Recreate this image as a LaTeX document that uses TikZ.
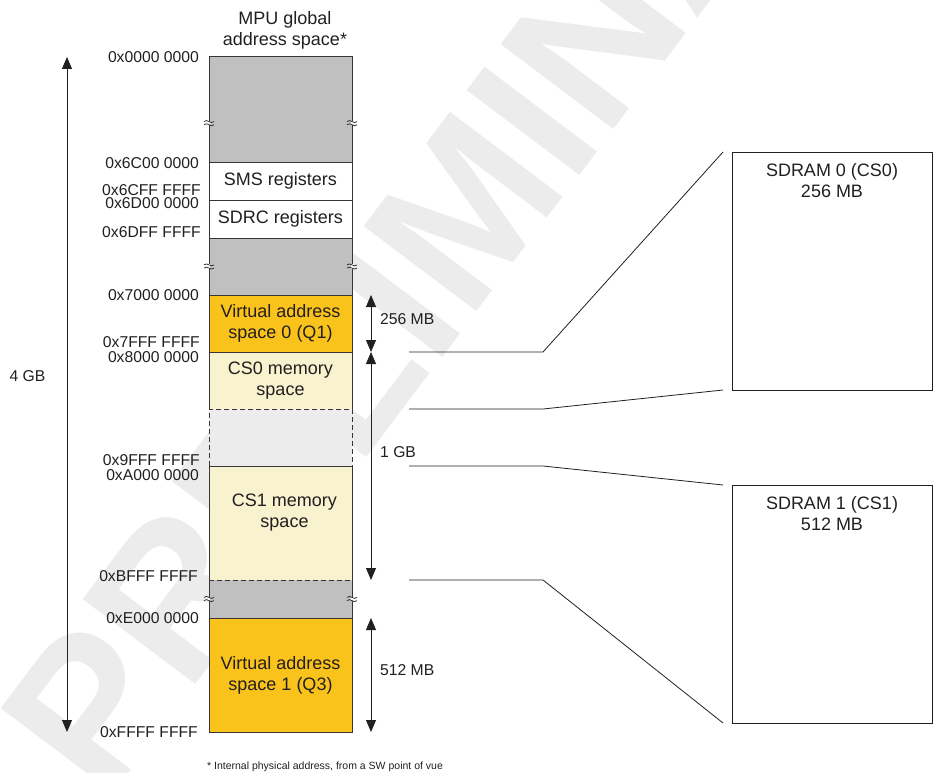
\documentclass[tikz,border=0pt]{standalone}
\usepackage{fontspec}
\setmainfont{Liberation Sans}
\usetikzlibrary{positioning,arrows.meta,calc}
\definecolor{rsvgray}{RGB}{192,192,192}
\definecolor{virtorange}{RGB}{249,195,28}
\definecolor{csyellow}{RGB}{249,242,207}
\definecolor{holegray}{RGB}{236,236,236}
\definecolor{wmgray}{RGB}{236,236,236}
\definecolor{inkgray}{RGB}{35,31,32}
\newcommand\bigtxt{\fontsize{18}{21}\selectfont}
\newcommand\smalltxt{\fontsize{15.7}{18}\selectfont}
\tikzset{
  region/.style={rectangle,draw=none,inner sep=0pt,outer sep=0pt,minimum width=143pt,
    anchor=north west,align=center,font=\bigtxt,text=inkgray},
  resv/.style={region,fill=rsvgray},
  regs/.style={region,fill=white},
  virt/.style={region,fill=virtorange},
  csmem/.style={region,fill=csyellow},
  hole/.style={region,fill=holegray},
  memtxt/.style={inner sep=0pt,align=center,font=\bigtxt,text=inkgray},
  addr/.style={anchor=east,inner sep=0pt,font=\smalltxt,text=inkgray},
  dimlbl/.style={anchor=west,inner sep=0pt,font=\smalltxt,text=inkgray},
  sdram/.style={rectangle,draw=inkgray,line width=0.9pt,inner sep=0pt,outer sep=0pt,
    minimum width=200pt,minimum height=238pt,anchor=north west},
  edge/.style={draw=inkgray!90,line width=1pt},
  brk/.style={draw=inkgray,line width=0.7pt},
  dim/.style={{Triangle[length=12pt,width=10pt]}-{Triangle[length=12pt,width=10pt]},
    line width=0.8pt,draw=inkgray},
  link/.style={draw=inkgray,line width=0.8pt},
  wmark/.style={inner sep=0pt,text=wmgray,font=\fontsize{205}{205}\selectfont\bfseries},
}

\begin{document}
\begin{tikzpicture}[x=1pt,y=-1pt]
  \useasboundingbox (0,0) rectangle (934,773);
  % watermark behind everything
  \begin{scope}
    \clip (0,0) rectangle (934,773);
    \node[wmark,rotate=53,anchor=base west] (wm) at (105,805) {PRELIMINARY};
  \end{scope}

  \node[memtxt] (title) at (285,30) {MPU global\\address space*};

  % address map column
  \node[resv,minimum height=105pt] (g1) at (209,57) {};
  \node[regs,minimum height=38pt,below=0pt of g1] (sms) {SMS registers};
  \node[regs,minimum height=38pt,below=0pt of sms] (sdrc) {SDRC registers};
  \node[resv,minimum height=57pt,below=0pt of sdrc] (g2) {};
  \node[virt,minimum height=57pt,below=0pt of g2] (vas0) {Virtual address\\space 0 (Q1)};
  \node[csmem,minimum height=57pt,below=0pt of vas0] (cs0) {CS0 memory\\space};
  \node[hole,minimum height=57pt,below=0pt of cs0] (gap) {};
  \node[csmem,minimum height=114pt,below=0pt of gap] (cs1) {};
  \node[memtxt] (cs1txt) at ($(cs1.center)+(4,-10)$) {CS1 memory\\space};
  \node[resv,minimum height=38pt,below=0pt of cs1] (g3) {};
  \node[virt,minimum height=114pt,below=0pt of g3] (vas1) {Virtual address\\space 1 (Q3)};

  % outlines
  \draw[edge] (cs0.south west) -- (g1.north west) -- (g1.north east) -- (cs0.south east);
  \draw[edge] (cs1.north west) -- (vas1.south west) -- (vas1.south east) -- (cs1.north east);
  \foreach \n in {g1,sms,sdrc,g2,vas0,gap,g3}
    \draw[edge] (\n.south west) -- (\n.south east);
  \draw[edge,dash pattern=on 5pt off 3pt] (gap.south west) -- (gap.north west) -- (gap.north east) -- (gap.south east);
  \draw[edge,dash pattern=on 5pt off 3pt] (cs1.south west) -- (cs1.south east);

  % break marks
  \foreach \n/\f in {g1/0.63,g2/0.5,g3/0.5}{
    \foreach \s in {west,east}{
      \coordinate (bk) at ($(\n.north \s)!\f!(\n.south \s)$);
      \fill[white] ($(bk)+(-1,-2.2)$) rectangle ($(bk)+(1,2.2)$);
      \draw[brk] ($(bk)+(-5,-1.6)$) .. controls +(3,-3.5) and +(-3,3.5) .. ($(bk)+(5,-1.6)$);
      \draw[brk] ($(bk)+(-5,1.6)$) .. controls +(3,-3.5) and +(-3,3.5) .. ($(bk)+(5,1.6)$);
    }
  }

  % addresses
  \node[addr] (a0) at (199,57.5) {0x0000 0000};
  \node[addr] (a1) at (199,163) {0x6C00 0000};
  \node[addr] (a2) at (201,190.5) {0x6CFF FFFF};
  \node[addr] (a3) at (199,203) {0x6D00 0000};
  \node[addr] (a4) at (201,232.5) {0x6DFF FFFF};
  \node[addr] (a5) at (199,295.5) {0x7000 0000};
  \node[addr] (a6) at (200,342.5) {0x7FFF FFFF};
  \node[addr] (a7) at (199,357) {0x8000 0000};
  \node[addr] (a8) at (200,460.5) {0x9FFF FFFF};
  \node[addr] (a9) at (199,475) {0xA000 0000};
  \node[addr] (a10) at (198,576) {0xBFFF FFFF};
  \node[addr] (a11) at (199,618.5) {0xE000 0000};
  \node[addr] (a12) at (198,732.5) {0xFFFF FFFF};

  % sizes
  \coordinate (fullx) at (67,0);
  \coordinate (dimx) at (371,0);
  \draw[dim] (g1.north west -| fullx) -- (vas1.south west -| fullx);
  \node[dimlbl,anchor=center] (gb4) at (27.5,376) {4 GB};
  \draw[dim] (vas0.north east -| dimx) -- (vas0.south east -| dimx);
  \draw[dim] (cs0.north east -| dimx) -- (cs1.south east -| dimx);
  \draw[dim] (vas1.north east -| dimx) -- (vas1.south east -| dimx);
  \node[dimlbl] (mb256) at (380,319) {256 MB};
  \node[dimlbl] (gb1) at (380,452) {1 GB};
  \node[dimlbl] (mb512) at (380,670) {512 MB};

  % SDRAM devices
  \node[sdram] (sd0) at (732,152) {};
  \node[memtxt,below=11pt of sd0.north] (sd0txt) {SDRAM 0 (CS0)\\256 MB};
  \node[sdram] (sd1) at (732,485) {};
  \node[memtxt,below=11pt of sd1.north] (sd1txt) {SDRAM 1 (CS1)\\512 MB};
  \draw[link] ($(vas0.south east)+(57,0)$) -- ++(134,0) -- ($(sd0.north west)+(-9,0)$);
  \draw[link] ($(cs0.south east)+(57,0)$) -- ++(134,0) -- ($(sd0.south west)+(-9,0)$);
  \draw[link] ($(cs1.north east)+(57,0)$) -- ++(134,0) -- ($(sd1.north west)+(-9,0)$);
  \draw[link] ($(cs1.south east)+(57,0)$) -- ++(134,0) -- ($(sd1.south west)+(-9,0)$);

  \node[inner sep=0pt,font=\fontsize{10.5}{12}\selectfont,text=inkgray] (note) at (325,767)
    {* Internal physical address, from a SW point of vue};
\end{tikzpicture}
\end{document}
